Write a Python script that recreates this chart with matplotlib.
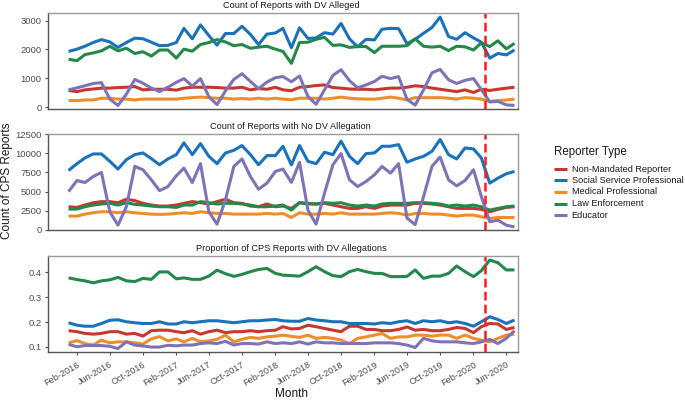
import matplotlib
matplotlib.use("Agg")
import matplotlib.pyplot as plt
import matplotlib.dates as mdates
from matplotlib.lines import Line2D
import pandas as pd
import datetime as dt

plt.rcParams['font.family'] = ['Liberation Sans', 'DejaVu Sans']

months = pd.date_range("2016-01-01", periods=55, freq="MS")
reporter_types = ["Non-Mandated Reporter", "Social Service Professional",
                  "Medical Professional", "Law Enforcement", "Educator"]
colors = ["#C8372D", "#1A72BB", "#EE8E2A", "#23884A", "#7F72B7"]

dv_nonmandated = [577,540,600,630,660,660,680,690,715,600,
                  620,620,620,590,660,690,690,690,680,660,
                  660,690,600,645,620,690,600,570,690,715,
                  750,770,680,660,630,620,620,600,630,660,
                  660,690,740,715,660,620,580,540,600,510,
                  620,580,620,660,690]
dv_social = [1930,2010,2110,2240,2340,2260,2070,2240,2390,2370,
             2250,2130,2140,2240,2730,2370,2850,2480,2150,2550,
             2550,2800,2520,2170,2530,2570,2730,2060,2750,2380,
             2400,2580,2530,2900,2370,2090,2350,2330,2700,2730,
             2720,2200,2350,2560,2760,3120,2450,2350,2580,2400,
             2250,1700,1860,1810,1980]
dv_medical = [230,230,250,250,310,310,280,280,250,280,
              280,280,280,280,310,330,350,330,310,310,
              280,300,280,310,280,310,280,260,310,310,
              310,280,310,350,310,290,280,280,310,350,
              310,250,330,330,330,330,310,280,330,310,
              280,200,230,250,280]
dv_law = [1660,1610,1820,1880,1950,2110,1950,2040,1860,1920,
          1770,1980,1980,1700,2010,1940,2170,2240,2340,2260,
          2130,2170,2040,2080,2110,2010,1930,1520,2240,2250,
          2350,2420,2140,2160,2070,2100,2100,1890,2110,2110,
          2110,2130,2370,2110,2080,2110,1960,2110,2090,1980,
          2230,2100,2300,2020,2210]
dv_educator = [600,670,740,820,850,280,60,450,960,830,
               660,540,690,860,990,730,990,360,90,560,
               960,1160,890,640,870,1020,1060,880,1080,370,
               100,600,1100,1300,920,670,770,890,1070,990,
               1060,270,70,600,1190,1310,950,820,930,990,
               610,180,200,80,60]

nodv_nonmandated = [3000,2910,3220,3530,3670,3670,3530,3980,3800,3450,
                    3220,3090,3090,3220,3450,3670,3530,3360,3670,3980,
                    3530,3450,3090,3000,3360,3000,3090,2780,3530,3450,
                    3360,3450,3220,3000,2780,2780,3000,2780,3090,3220,
                    3220,3220,3450,3450,3360,3220,3000,2780,2780,2780,
                    2650,2340,2650,2910,3000]
nodv_social = [7770,8660,9410,9940,9940,8970,7950,9190,9850,10070,
               9320,8520,9280,9850,11400,9850,11300,9630,8660,10070,
               10420,11040,9850,8520,9720,9720,10950,8500,11040,8970,
               8660,10160,9850,11620,9630,8660,9980,10070,10950,10950,
               11170,8850,9280,9630,10290,11840,9850,9280,10730,10600,
               9410,6100,6760,7330,7640]
nodv_medical = [1770,1770,2030,2210,2340,2340,2210,2340,2210,2120,
                2030,1990,2030,2120,2210,2120,2340,2210,2120,2120,
                2030,2030,2030,2030,2120,2030,2120,1590,2210,2030,
                2030,2120,2030,2210,2030,2030,2030,2030,2120,2210,
                2120,1900,2120,2120,2030,2030,1900,1770,1900,1900,
                1680,1460,1590,1590,1590]
nodv_law = [2690,2690,3000,3220,3360,3450,3220,3530,3310,3220,
            3090,3000,3000,2910,3220,3220,3670,3530,3360,3450,
            3450,3360,3220,3000,3000,3090,3220,2560,3530,3360,
            3360,3530,3450,3530,3220,3090,3220,3090,3360,3450,
            3450,3450,3530,3530,3450,3360,3090,3220,3090,3220,
            3000,2560,2780,3000,3090]
nodv_educator = [4990,6450,6180,6980,7510,2340,570,3000,8300,7860,
                 6540,5120,5650,7070,8080,6180,8660,2340,710,3890,
                 8300,9280,6980,5300,6100,7640,7950,6200,8830,2560,
                 710,4770,8520,9980,6540,5650,6320,7200,8300,7420,
                 8660,1500,650,4330,8300,9540,6540,5740,6450,7860,
                 4330,1020,1240,570,350]

prop_nonmandated = [.165,.161,.154,.151,.154,.161,.161,.151,.154,.143,
                    .165,.167,.167,.161,.157,.165,.151,.161,.167,.157,
                    .161,.161,.165,.161,.165,.167,.181,.172,.174,.187,
                    .181,.174,.167,.161,.183,.183,.170,.170,.165,.165,
                    .170,.180,.167,.170,.165,.165,.170,.178,.174,.157,
                    .181,.194,.192,.170,.178]
prop_social = [.197,.187,.183,.183,.194,.207,.209,.201,.197,.194,
               .194,.201,.192,.192,.201,.197,.201,.205,.205,.201,
               .197,.201,.205,.205,.208,.210,.205,.203,.203,.214,
               .208,.205,.201,.201,.194,.194,.194,.192,.197,.194,
               .201,.205,.194,.205,.201,.205,.197,.201,.194,.183,
               .201,.221,.210,.194,.208]
prop_medical = [.116,.125,.113,.107,.127,.116,.120,.120,.116,.111,
                .132,.141,.124,.132,.120,.134,.120,.124,.130,.147,
                .120,.130,.138,.134,.140,.143,.147,.142,.138,.147,
                .134,.138,.134,.127,.113,.134,.140,.147,.154,.134,
                .140,.140,.147,.147,.143,.147,.147,.134,.147,.134,
                .127,.120,.134,.147,.151]
prop_law = [.378,.371,.366,.358,.366,.370,.380,.366,.363,.376,
            .372,.402,.402,.374,.378,.372,.372,.385,.409,.395,
            .384,.392,.403,.412,.416,.396,.389,.387,.385,.403,
            .423,.403,.387,.383,.403,.412,.403,.396,.396,.383,
            .383,.384,.410,.376,.385,.385,.396,.426,.403,.383,
            .407,.450,.439,.410,.410]
prop_educator = [.110,.100,.105,.105,.105,.102,.093,.120,.107,.103,
                 .099,.099,.106,.104,.107,.107,.113,.116,.113,.122,
                 .107,.113,.113,.111,.120,.113,.116,.113,.120,.111,
                 .120,.116,.116,.113,.113,.113,.113,.116,.116,.116,
                 .113,.107,.097,.134,.124,.120,.120,.120,.116,.113,
                 .120,.130,.113,.134,.165]

panel_titles = ["Count of Reports with DV Alleged",
                "Count of Reports with No DV Allegation",
                "Proportion of CPS Reports with DV Allegations"]
panels = [
    [dv_nonmandated, dv_social, dv_medical, dv_law, dv_educator],
    [nodv_nonmandated, nodv_social, nodv_medical, nodv_law, nodv_educator],
    [prop_nonmandated, prop_social, prop_medical, prop_law, prop_educator],
]
yticks = [[0, 1000, 2000, 3000], [0, 2500, 5000, 7500, 10000, 12500], [0.1, 0.2, 0.3, 0.4]]
ytick_labels = [["0", "1000", "2000", "3000"],
                ["0", "2500", "5000", "7500", "10000", "12500"],
                ["0.1", "0.2", "0.3", "0.4"]]
ylims = [(-70, 3255), (-110, 12560), (0.0774, 0.467)]
covid_line = dt.datetime(2020, 3, 15)
tick_dates = pd.date_range("2016-02-01", "2020-06-01", freq="4MS")

W, H = 685, 400
fig = plt.figure(figsize=(6.85, 4.0), dpi=100)
axes_pos = [(0.0696, 0.727, 0.6866, 0.240),
            (0.0696, 0.424, 0.6866, 0.241),
            (0.0696, 0.119, 0.6866, 0.2415)]
tick_col = "#4d4d4d"
text_col = "#1a1a1a"
for i, (pos, series) in enumerate(zip(axes_pos, panels)):
    ax = fig.add_axes(pos)
    for vals, c in zip(series, colors):
        ax.plot(months, vals, color=c, lw=2.2, solid_joinstyle='round',
                solid_capstyle='butt')
    ax.axvline(covid_line, color="#FF1A1A", lw=1.8, ls=(0, (3.5, 1.7)))
    ax.set_xlim(dt.datetime(2015, 10, 16), dt.datetime(2020, 7, 14))
    ax.set_ylim(*ylims[i])
    ax.set_yticks(yticks[i])
    ax.set_yticklabels(ytick_labels[i])
    ax.set_title(panel_titles[i], fontsize=6.6, pad=3.5, color=text_col, x=0.517)
    for s in ["left", "bottom"]:
        ax.spines[s].set_color("#555555")
        ax.spines[s].set_linewidth(1.0)
    for s in ["top", "right"]:
        ax.spines[s].set_color("#9a9a9a")
        ax.spines[s].set_linewidth(1.0)
    ax.tick_params(axis='y', labelsize=6.8, colors=tick_col, length=2.5, pad=2)
    ax.set_xticks(tick_dates)
    if i < 2:
        ax.tick_params(axis='x', bottom=False, labelbottom=False)
    else:
        ax.xaxis.set_major_formatter(mdates.DateFormatter("%b-%Y"))
        ax.tick_params(axis='x', labelsize=6.6, colors=tick_col, length=2.5, pad=3)
        for lab in ax.get_xticklabels():
            lab.set_rotation(30)
            lab.set_ha('right')
            lab.set_rotation_mode('anchor')

fig.text(291 / W, 1 - 394 / H, "Month", fontsize=8.5, ha='center', va='center',
         color=text_col)
fig.text(7 / W, 1 - 181 / H, "Count of CPS Reports", rotation=90, fontsize=8.5,
         va='center', ha='center', color=text_col)

# legend
fig.text(554 / W, 1 - 152.5 / H, "Reporter Type", fontsize=8.3, ha='left',
         va='center', color=text_col)
for k, (lab, c) in enumerate(zip(reporter_types, colors)):
    yk = 1 - (169 + 11.5 * k) / H
    fig.add_artist(Line2D([554 / W, 567 / W], [yk, yk], color=c, lw=2.2,
                          solid_capstyle='butt', transform=fig.transFigure))
    fig.text(571.5 / W, yk, lab, fontsize=6.6, ha='left', va='center',
             color=text_col)

fig.savefig("out.png", dpi=100)
